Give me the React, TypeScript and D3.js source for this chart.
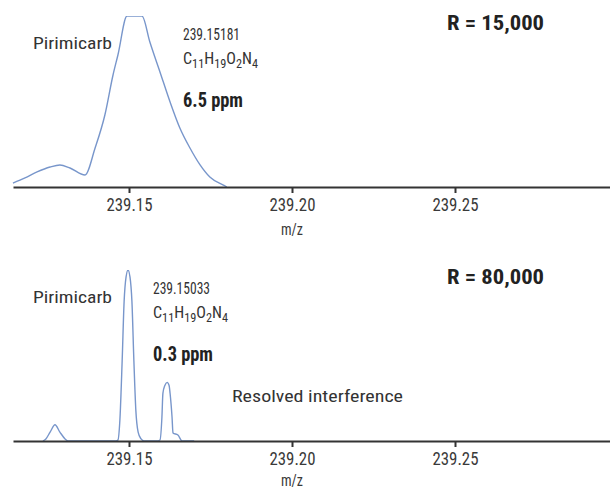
import * as d3 from "d3";
import { useEffect, useRef } from "react";

// m/z and relative intensity
const topMz = [239.1144, 239.1181, 239.1218, 239.1258, 239.1288, 239.1319, 239.1365, 239.1396, 239.1426, 239.1451, 239.1466, 239.1494, 239.154, 239.1564, 239.1595, 239.1626, 239.1656, 239.1687, 239.1718, 239.1748, 239.1788, 239.18];
const topInt = [2.3, 5.3, 8.8, 11.7, 12.9, 11.1, 7.0, 22.8, 42.1, 65.5, 77.2, 100, 100, 84.8, 67.3, 49.7, 34.5, 22.8, 12.9, 5.8, 1.2, 0];

const botMz = [239.1236, 239.1245, 239.1258, 239.1273, 239.1288, 239.1304, 239.1313, 239.146, 239.1466, 239.1472, 239.1479, 239.1485, 239.1491, 239.1497, 239.1503, 239.1509, 239.1515, 239.1521, 239.1528, 239.1537, 239.1546, 239.1586, 239.1595, 239.1601, 239.1604, 239.161, 239.1617, 239.1623, 239.1626, 239.1632, 239.1635, 239.165, 239.1663, 239.17];
const botInt = [0, 1.2, 5.2, 9.5, 5.2, 1.2, 0, 0, 0.5, 12.1, 46.8, 81.5, 96, 100, 96, 81.5, 46.8, 17.9, 5.2, 1.2, 0, 0, 0.6, 14, 27.9, 32.5, 34.3, 32.5, 27.9, 14, 4.7, 3.5, 0, 0];

const tickValues = [239.15, 239.2, 239.25];

const panels = [
  { mz: topMz, val: topInt, base: 187, mass: "239.15181", ppm: "6.5 ppm", res: "R = 15,000", note: "" },
  { mz: botMz, val: botInt, base: 441, mass: "239.15033", ppm: "0.3 ppm", res: "R = 80,000", note: "Resolved interference" },
];

const FONT = "'Liberation Sans Narrow', 'Arial Narrow', 'Roboto Condensed', Roboto, sans-serif";
const LINE = "#7896cb";
const INK = "#333";

const App = () => {
  const ref = useRef<SVGSVGElement>(null);
  const width = 610;
  const height = 489;

  useEffect(() => {
    const svg = d3.select(ref.current);
    svg.selectAll("*").remove();

    const x = d3.scaleLinear().domain([239.15, 239.25]).range([129, 455]);
    const xAxisScale = d3.scaleLinear().domain([x.invert(13), x.invert(610)]).range([13, 610]);

    panels.forEach((p, i) => {
      const y = d3.scaleLinear().domain([0, 100]).range([p.base, p.base - 171]);
      const g = svg.append("g");

      const clipId = `clip${i}`;
      svg.append("clipPath").attr("id", clipId)
        .append("rect")
        .attr("x", 0).attr("y", p.base - 171)
        .attr("width", width).attr("height", 173);

      const line = d3.line<number>()
        .x((_, k) => x(p.mz[k]))
        .y(d => y(d))
        .curve(d3.curveMonotoneX);

      g.append("path")
        .attr("d", line(p.val))
        .attr("clip-path", `url(#${clipId})`)
        .attr("fill", "none")
        .attr("stroke", LINE)
        .attr("stroke-width", 1.4);

      // axis
      const axis = d3.axisBottom(xAxisScale)
        .tickValues(tickValues)
        .tickFormat(d3.format(".2f") as any)
        .tickSize(6)
        .tickSizeOuter(0);
      const ax = g.append("g")
        .attr("transform", `translate(0, ${p.base})`)
        .call(axis);
      ax.select(".domain").attr("stroke", INK).attr("stroke-width", 2);
      ax.selectAll(".tick line").attr("stroke", INK).attr("stroke-width", 2);
      ax.selectAll(".tick text")
        .attr("y", 11)
        .attr("dy", "0.71em")
        .attr("fill", "#3a3a3a")
        .attr("textLength", 46)
        .attr("lengthAdjust", "spacingAndGlyphs")
        .style("font-family", FONT)
        .style("font-size", "18px");

      g.append("text")
        .attr("x", x(239.2))
        .attr("y", p.base + (i === 0 ? 48 : 45))
        .attr("text-anchor", "middle")
        .attr("fill", "#3a3a3a")
        .attr("textLength", 22)
        .attr("lengthAdjust", "spacingAndGlyphs")
        .style("font-family", FONT)
        .style("font-size", "17px")
        .text("m/z");

      const top = p.base - 187;
      const tx = i === 0 ? 183 : 153;

      g.append("text")
        .attr("x", 33).attr("y", top + 49)
        .attr("fill", INK)
        .attr("textLength", 79).attr("lengthAdjust", "spacingAndGlyphs")
        .style("font-family", FONT).style("font-size", "17px")
        .text("Pirimicarb");

      g.append("text")
        .attr("x", tx).attr("y", top + 40)
        .attr("fill", INK)
        .attr("textLength", 57).attr("lengthAdjust", "spacingAndGlyphs")
        .style("font-family", FONT).style("font-size", "16px")
        .text(p.mass);

      const f = g.append("text")
        .attr("x", tx).attr("y", top + 64)
        .attr("fill", INK)
        .attr("textLength", 75).attr("lengthAdjust", "spacingAndGlyphs")
        .style("font-family", FONT).style("font-size", "17px");
      const parts: [string, boolean][] = [["C", false], ["11", true], ["H", false], ["19", true], ["O", false], ["2", true], ["N", false], ["4", true]];
      parts.forEach(([t, sub], k) => {
        const prevSub = k > 0 && parts[k - 1][1];
        f.append("tspan")
          .attr("dy", sub ? 4 : prevSub ? -4 : 0)
          .style("font-size", sub ? "13px" : "17px")
          .text(t);
      });

      g.append("text")
        .attr("x", tx).attr("y", top + 107)
        .attr("fill", "#222")
        .attr("textLength", 60).attr("lengthAdjust", "spacingAndGlyphs")
        .style("font-family", FONT).style("font-size", "21px").style("font-weight", "bold")
        .text(p.ppm);

      g.append("text")
        .attr("x", 447).attr("y", top + 30)
        .attr("fill", "#222")
        .attr("textLength", 97).attr("lengthAdjust", "spacingAndGlyphs")
        .style("font-family", FONT).style("font-size", "21px").style("font-weight", "bold")
        .text(p.res);

      if (p.note) {
        g.append("text")
          .attr("x", 232).attr("y", top + 148)
          .attr("fill", INK)
          .attr("textLength", 171).attr("lengthAdjust", "spacingAndGlyphs")
          .style("font-family", FONT).style("font-size", "17px")
          .text(p.note);
      }
    });
  }, []);

  return (
    <svg
      ref={ref}
      width={width}
      height={height}
      style={{ position: "absolute", left: 0, top: 0, background: "#fff" }}
    />
  );
};

export default App;
